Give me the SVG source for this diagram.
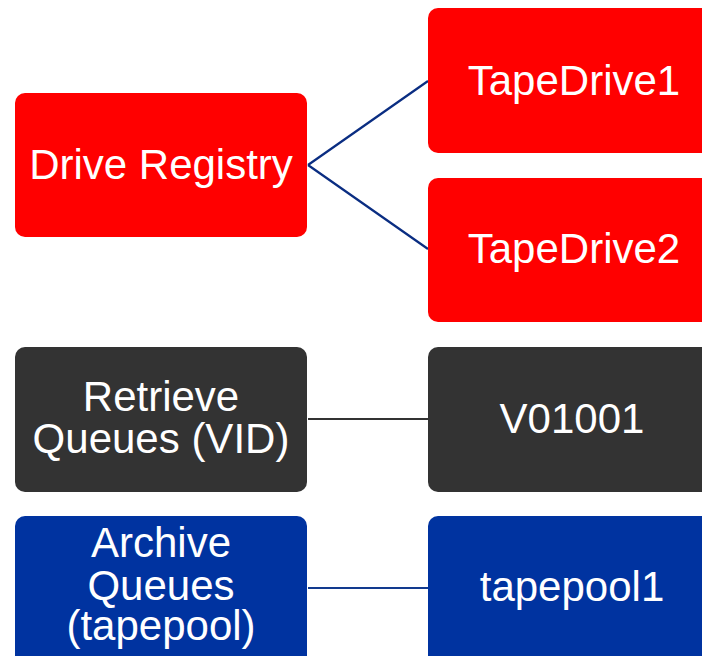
<svg xmlns="http://www.w3.org/2000/svg" width="702" height="656" viewBox="0 0 702 656">
<style>
.red{fill:#FF0000}
.gray{fill:#333333}
.blue{fill:#0033A0}
text{font-family:"Liberation Sans",Arial,sans-serif;font-size:42px;fill:#FFFFFF;text-anchor:middle}
.c{fill:none;stroke-width:2.2}
</style>
<rect width="702" height="656" fill="#FFFFFF"/>
<g id="connectors">
<path class="c" d="M308,165 L428,81 M308,165 L428,249" stroke="#0A2D82"/>
<line class="c" x1="308" y1="419" x2="428" y2="419" stroke="#333333"/>
<line class="c" x1="308" y1="588" x2="428" y2="588" stroke="#123A8E"/>
</g>
<g id="drive-registry">
<rect class="red" x="15" y="93" width="292" height="144" rx="10"/>
<text x="161" y="179">Drive Registry</text>
</g>
<g id="tapedrive1">
<rect class="red" x="428" y="8" width="292" height="145" rx="10"/>
<text x="574" y="95">TapeDrive1</text>
</g>
<g id="tapedrive2">
<rect class="red" x="428" y="178" width="292" height="144" rx="10"/>
<text x="574" y="263">TapeDrive2</text>
</g>
<g id="retrieve-queues">
<rect class="gray" x="15" y="347" width="292" height="145" rx="10"/>
<text x="161" y="411">Retrieve</text>
<text x="161" y="453">Queues (VID)</text>
</g>
<g id="v01001">
<rect class="gray" x="428" y="347" width="292" height="145" rx="10"/>
<text x="572" y="433">V01001</text>
</g>
<g id="archive-queues">
<rect class="blue" x="15" y="516" width="292" height="160" rx="10"/>
<text x="161" y="557">Archive</text>
<text x="161" y="600">Queues</text>
<text x="161" y="640">(tapepool)</text>
</g>
<g id="tapepool1">
<rect class="blue" x="428" y="516" width="292" height="160" rx="10"/>
<text x="572" y="601">tapepool1</text>
</g>
</svg>
